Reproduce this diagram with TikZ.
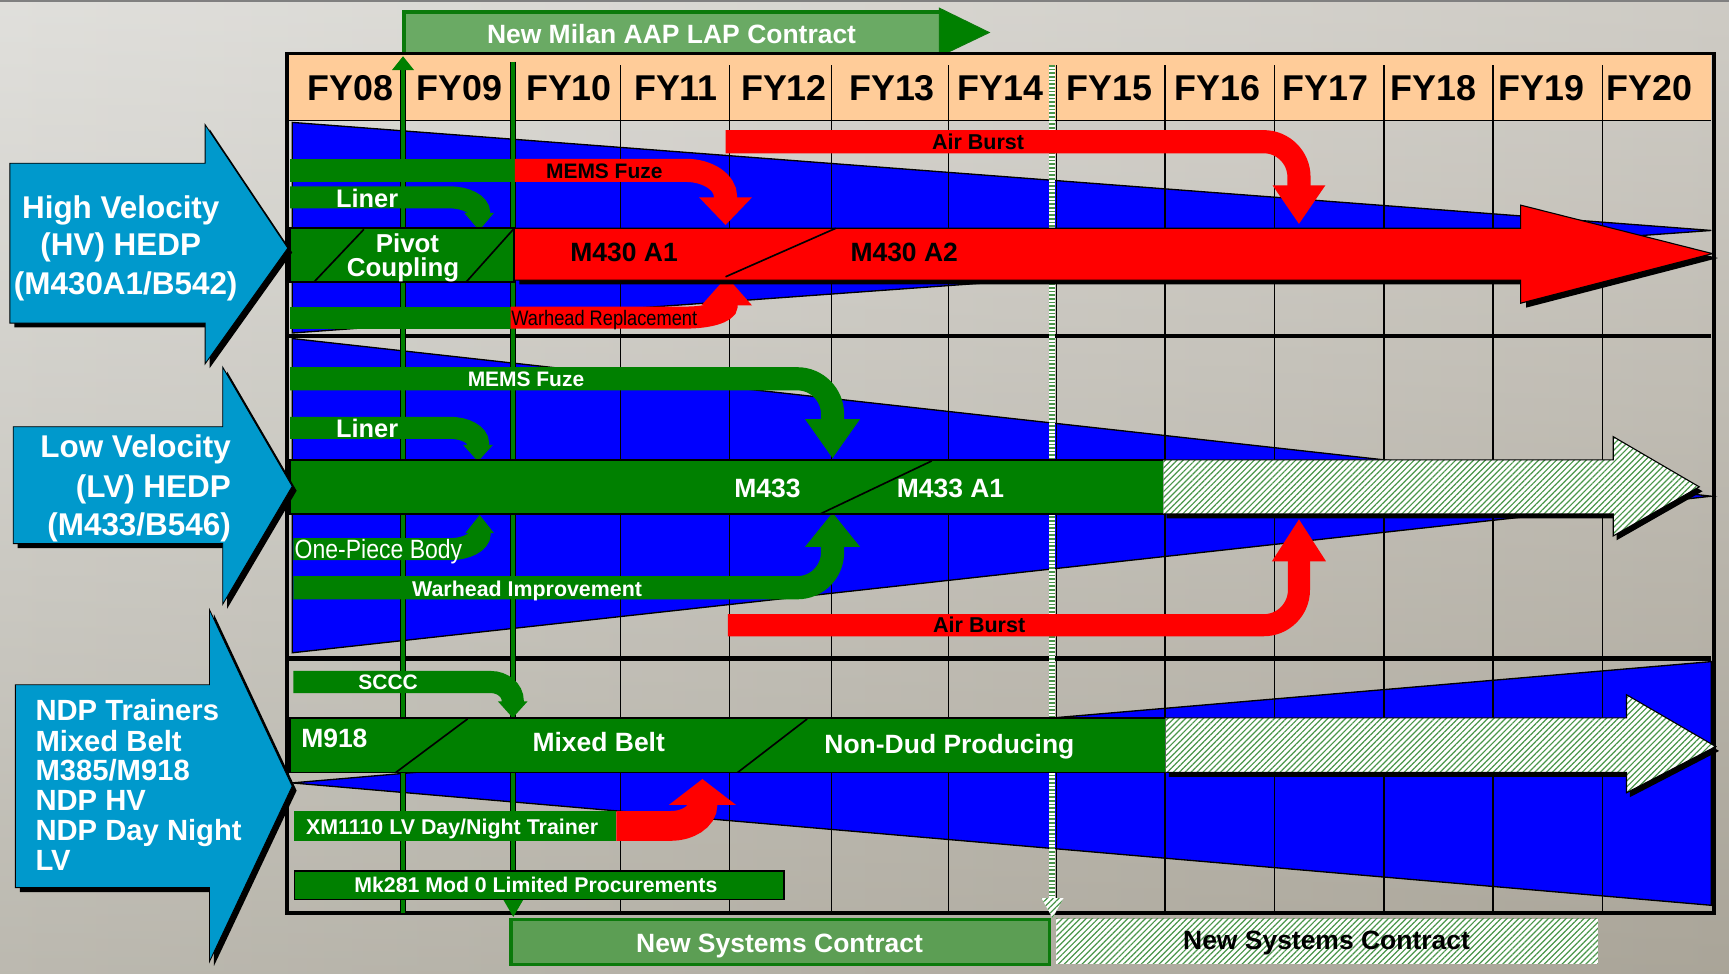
\documentclass[tikz,border=0pt]{standalone}
\usepackage{fontspec}
\setmainfont{Liberation Sans}
\newfontfamily\narrowfont[FakeStretch=0.87]{Liberation Sans}
\usetikzlibrary{patterns.meta}
\definecolor{bgL}{HTML}{D6D5D0}
\definecolor{bgR}{HTML}{BEBAB1}
\definecolor{gr}{HTML}{008000}
\definecolor{rd}{HTML}{FF0000}
\definecolor{bl}{HTML}{0000FF}
\definecolor{cy}{HTML}{0099CC}
\definecolor{peach}{HTML}{FFCC99}
\definecolor{bannerfill}{HTML}{6AAA64}
\definecolor{bannerline}{HTML}{0B7A0B}
\definecolor{boxfill}{HTML}{5C9E54}
\definecolor{hatchgreen}{HTML}{4A964A}
\definecolor{shadebrown}{HTML}{6E6650}

% bent arrow: #1 style, #2 x0, #3 y, #4 x1 (curve start), #5 xc (vertical axis), #6 ry (signed), #7 head base y, #8 head half width, #9 tip y
\newcommand\bentarr[9]{%
  \draw[#1,line cap=butt] (#2,#3) -- (#4,#3) .. controls ({#4+0.5523*(#5-#4)},#3) and (#5,{#3+0.4477*(#6)}) .. (#5,{#3+(#6)}) -- (#5,{#7+0.15*(#9-#7)});
  \fill[#1] ({#5-#8},#7) -- ({#5+#8},#7) -- (#5,#9) -- cycle;}

% label: #1 name, #2 x, #3 y of cap middle, #4 size, #5 options, #6 font cmd, #7 text
\newcommand\lbl[7]{\node[anchor=base,inner sep=0pt,#5,font={\fontsize{#4}{#4}\selectfont#6}] (#1) at (#2,{#3+0.345*#4}) {#7};}

\begin{document}
\begin{tikzpicture}[x=1pt,y=-1pt,line join=miter,
  gridln/.style={black,line width=1.2pt},
  hatch/.style={pattern={Lines[angle=45,distance=3.8pt,line width=1.1pt]},pattern color=hatchgreen},
  wedge/.style={fill=bl,draw=black,line width=1.2pt},
  body/.style={fill=gr,draw=black,line width=1.5pt}]
\useasboundingbox (0,0) rectangle (1568,883);
\shade[left color=bgL,right color=bgR] (0,0) rectangle (1568,883);
\shade[top color=white,bottom color=shadebrown,opacity=0.25] (0,0) rectangle (1568,883);
\fill[black!50] (0,0) rectangle (1568,1.8);

% ---------- banner ----------
\draw[bannerline,line width=3.5pt,fill=bannerfill] (366.5,10.5) rectangle (853,48.5);
\draw[fill=gr,draw=bannerline,line width=1pt] (852,7.5) -- (897,29.5) -- (852,51) -- cycle;

% ---------- header ----------
\fill[peach] (262,50) rectangle (1552,109);

% ---------- wedges ----------
\path[wedge] (265,111) -- (1552,209) -- (265,302) -- cycle;
\path[wedge] (265,307) -- (1552,450) -- (265,592) -- cycle;
\path[wedge] (265,710) -- (1552,600) -- (1552,821) -- cycle;

% ---------- grid ----------
\foreach \gx in {563,661.5,754,860,958,1056.5,1156,1255,1354,1453}
  {\draw[gridln] (\gx,59) -- (\gx,826);}
\draw[line width=1.2pt] (262,109) -- (1552,109);
\draw[line width=3.5pt] (262,304.5) -- (1552,304.5);
\draw[line width=4.5pt] (262,597) -- (1552,597);
\draw[line width=3.5pt] (260.5,48.5) rectangle (1554,828);

% ---------- vertical contract lines ----------
\draw[black,line width=5.5pt] (365.5,828) -- (365.5,63);
\draw[gr,line width=3.5pt] (365.5,828) -- (365.5,63);
\fill[gr] (355.5,63.5) -- (375.5,63.5) -- (365.5,51) -- cycle;
\draw[black,line width=5.5pt] (465.5,56) -- (465.5,817);
\draw[gr,line width=3.5pt] (465.5,56) -- (465.5,817);
\fill[gr] (456.5,816) -- (474.5,816) -- (465.5,831.5) -- cycle;
\draw[white,line width=5pt] (954,59) -- (954,815);
\draw[hatchgreen,line width=5pt,dash pattern=on 1.5pt off 1.8pt] (954,59) -- (954,815);
\fill[white] (944.5,814.5) -- (964.5,814.5) -- (954.5,832.5) -- cycle;
\path[hatch] (944.5,814.5) -- (964.5,814.5) -- (954.5,832.5) -- cycle;

% ---------- HV sub arrows ----------
\fill[gr] (263,144) rectangle (467,165);
\bentarr{rd,line width=21pt}{467}{154.5}{622}{658}{24}{179}{24}{204}
\bentarr{gr,line width=20pt}{263}{179}{408}{434.5}{14}{193}{13.5}{209}
\fill[gr] (263,278) rectangle (463,298);
\bentarr{rd,line width=20pt}{463}{288}{622}{659}{-11}{277}{23}{251}
\bentarr{rd,line width=21pt}{658}{128.5}{1146}{1178}{32}{168}{24}{203}

% ---------- LV sub arrows ----------
\bentarr{gr,line width=21pt}{263}{343.5}{723}{755}{32}{380}{25}{415.5}
\bentarr{gr,line width=20pt}{263}{388}{408}{433.5}{14}{403.5}{13.5}{418.5}
\bentarr{gr,line width=20pt}{266}{498}{408}{435}{-14}{483.5}{13}{467}
\bentarr{gr,line width=21pt}{266}{533}{723}{755}{-32}{496}{25}{465}
\bentarr{rd,line width=20pt}{660}{567}{1146}{1178}{-32}{509}{24.5}{471}

% ---------- NDP sub arrows ----------
\bentarr{gr,line width=20pt}{266}{618.5}{445}{465}{17}{636}{13.5}{651}
\fill[gr] (267,735.5) rectangle (559,762.5);
\bentarr{rd,line width=27pt}{559}{749}{608}{637}{-19}{730}{30.5}{706.5}
\draw[body,line width=1.2pt] (267,790) rectangle (711,815.5);

% ---------- HV main ----------
\begin{scope}[shift={(5,4)}]
  \fill[black] (466,207) -- (1379,207) -- (1379,186) -- (1553,230) -- (1379,275) -- (1379,254) -- (466,254) -- cycle;
\end{scope}
\draw[fill=rd,line width=1pt] (466,207) -- (1379,207) -- (1379,186) -- (1553,230) -- (1379,275) -- (1379,254) -- (466,254) -- cycle;
\draw[line width=1.5pt] (658,251) -- (758,207);
\draw[body] (263,207) rectangle (466,255.5);
\draw[line width=1.5pt] (285,255.5) -- (330,208);
\draw[line width=1.5pt] (423,255.5) -- (465.5,208);

% ---------- LV main ----------
\draw[body] (263,417) rectangle (1055,466);
\draw[line width=1.5pt] (744,466) -- (845,418);
\begin{scope}[shift={(3,4)}]
  \fill[black] (1055,417) -- (1463,417) -- (1463,396) -- (1541,441.5) -- (1463,486) -- (1463,466) -- (1055,466) -- cycle;
\end{scope}
\fill[white] (1055,417) -- (1463,417) -- (1463,396) -- (1541,441.5) -- (1463,486) -- (1463,466) -- (1055,466) -- cycle;
\path[hatch] (1055,417) -- (1463,417) -- (1463,396) -- (1541,441.5) -- (1463,486) -- (1463,466) -- (1055,466) -- cycle;
\draw[line width=1pt] (1055,417) -- (1463,417) -- (1463,396) -- (1541,441.5) -- (1463,486) -- (1463,466) -- (1055,466);

% ---------- NDP main ----------
\draw[body] (263,651) rectangle (1057,700.5);
\draw[line width=1.5pt] (359,700.5) -- (424,652);
\draw[line width=1.5pt] (669,700.5) -- (732,652);
\begin{scope}[shift={(3,4)}]
  \fill[black] (1057,651) -- (1475,651) -- (1475,630) -- (1556,677) -- (1475,719) -- (1475,700.5) -- (1057,700.5) -- cycle;
\end{scope}
\fill[white] (1057,651) -- (1475,651) -- (1475,630) -- (1556,677) -- (1475,719) -- (1475,700.5) -- (1057,700.5) -- cycle;
\path[hatch] (1057,651) -- (1475,651) -- (1475,630) -- (1556,677) -- (1475,719) -- (1475,700.5) -- (1057,700.5) -- cycle;
\draw[line width=1pt] (1057,651) -- (1475,651) -- (1475,630) -- (1556,677) -- (1475,719) -- (1475,700.5) -- (1057,700.5);

% ---------- bottom contract boxes ----------
\draw[bannerline,line width=3pt,fill=boxfill] (463.5,834) rectangle (951.5,874.5);
\fill[white] (958,833) rectangle (1449,874);
\path[hatch] (958,833) rectangle (1449,874);

% ---------- left blue arrows ----------
\begin{scope}[shift={(4,4)}]
  \fill[black] (9,148) -- (186,148) -- (186,113) -- (261,225) -- (186,330) -- (186,293) -- (9,293) -- cycle;
  \fill[black] (12,387) -- (202,387) -- (202,333) -- (265,441) -- (202,548) -- (202,493) -- (12,493) -- cycle;
  \fill[black] (14,621) -- (190,621) -- (190,553) -- (265,713) -- (190,872) -- (190,805) -- (14,805) -- cycle;
\end{scope}
\draw[fill=cy,line width=0.8pt] (9,148) -- (186,148) -- (186,113) -- (261,225) -- (186,330) -- (186,293) -- (9,293) -- cycle;
\draw[fill=cy,line width=0.8pt] (12,387) -- (202,387) -- (202,333) -- (265,441) -- (202,548) -- (202,493) -- (12,493) -- cycle;
\draw[fill=cy,line width=0.8pt] (14,621) -- (190,621) -- (190,553) -- (265,713) -- (190,872) -- (190,805) -- (14,805) -- cycle;

% ---------- texts ----------
\lbl{banner}{609}{31}{24}{text=white}{\bfseries}{New Milan AAP LAP Contract}
\foreach \lx/\ly [count=\i] in {318/FY08,417/FY09,516/FY10,613/FY11,711/FY12,809/FY13,907/FY14,1006/FY15,1104/FY16,1202/FY17,1300/FY18,1398/FY19,1496/FY20}
  {\lbl{fy\i}{\lx}{80}{32.5}{text=black}{\bfseries}{\ly}}

\lbl{airA}{887}{129}{19.5}{text=black}{\bfseries}{Air Burst}
\lbl{memsA}{548}{155.5}{19}{text=black}{\bfseries}{MEMS Fuze}
\lbl{linerA}{333}{180}{23}{text=white}{\bfseries}{Liner}
\lbl{pivot}{369.5}{221}{23.5}{text=white}{\bfseries}{Pivot}
\lbl{coupling}{365.5}{242.5}{23.5}{text=white}{\bfseries}{Coupling}
\lbl{mA1}{566}{229}{24}{text=black}{\bfseries}{M430 A1}
\lbl{mA2}{820}{229}{24}{text=black}{\bfseries}{M430 A2}
\lbl{whrep}{548}{288.5}{19}{text=black}{\narrowfont}{Warhead Replacement}

\lbl{memsB}{477}{344}{19}{text=white}{\bfseries}{MEMS Fuze}
\lbl{linerB}{333}{389}{23}{text=white}{\bfseries}{Liner}
\lbl{m433}{696}{443}{24}{text=white}{\bfseries}{M433}
\lbl{m433a}{862}{443}{24}{text=white}{\bfseries}{M433 A1}
\lbl{opb}{267}{498}{24}{text=white,anchor=base west}{\narrowfont}{One-Piece Body}
\lbl{whimp}{478}{534}{19.4}{text=white}{\bfseries}{Warhead Improvement}
\lbl{airB}{888}{567}{19.5}{text=black}{\bfseries}{Air Burst}

\lbl{sccc}{352}{619}{19}{text=white}{\bfseries}{SCCC}
\lbl{m918}{273}{670}{24}{text=white,anchor=base west}{\bfseries}{M918}
\lbl{mixed}{543}{673.5}{24}{text=white}{\bfseries}{Mixed Belt}
\lbl{ndpr}{861}{675}{24}{text=white}{\bfseries}{Non-Dud Producing}
\lbl{xm}{410}{750}{19.4}{text=white}{\bfseries}{XM1110 LV Day/Night Trainer}
\lbl{mk}{486}{803}{19.3}{text=white}{\bfseries}{Mk281 Mod 0 Limited Procurements}

\lbl{nscA}{707}{855.5}{24}{text=white}{\bfseries}{New Systems Contract}
\lbl{nscB}{1203}{852.5}{24}{text=black}{\bfseries}{New Systems Contract}

\lbl{hv1}{109.5}{188}{28.5}{text=white}{\bfseries}{High Velocity}
\lbl{hv2}{109.5}{222}{28.5}{text=white}{\bfseries}{(HV) HEDP}
\lbl{hv3}{114}{257}{28.5}{text=white}{\bfseries}{(M430A1/B542)}
\lbl{lv1}{209.5}{405}{28.5}{text=white,anchor=base east}{\bfseries}{Low Velocity}
\lbl{lv2}{209.5}{441}{28.5}{text=white,anchor=base east}{\bfseries}{(LV) HEDP}
\lbl{lv3}{209.5}{476}{28.5}{text=white,anchor=base east}{\bfseries}{(M433/B546)}
\lbl{nd1}{32}{644.5}{26.5}{text=white,anchor=base west}{\bfseries}{NDP Trainers}
\lbl{nd2}{32}{672}{26.5}{text=white,anchor=base west}{\bfseries}{Mixed Belt}
\lbl{nd3}{32}{699}{26.5}{text=white,anchor=base west}{\bfseries}{M385/M918}
\lbl{nd4}{32}{726}{26.5}{text=white,anchor=base west}{\bfseries}{NDP HV}
\lbl{nd5}{32}{753.5}{26.5}{text=white,anchor=base west}{\bfseries}{NDP Day Night}
\lbl{nd6}{32}{780.5}{26.5}{text=white,anchor=base west}{\bfseries}{LV}
\end{tikzpicture}
\end{document}
